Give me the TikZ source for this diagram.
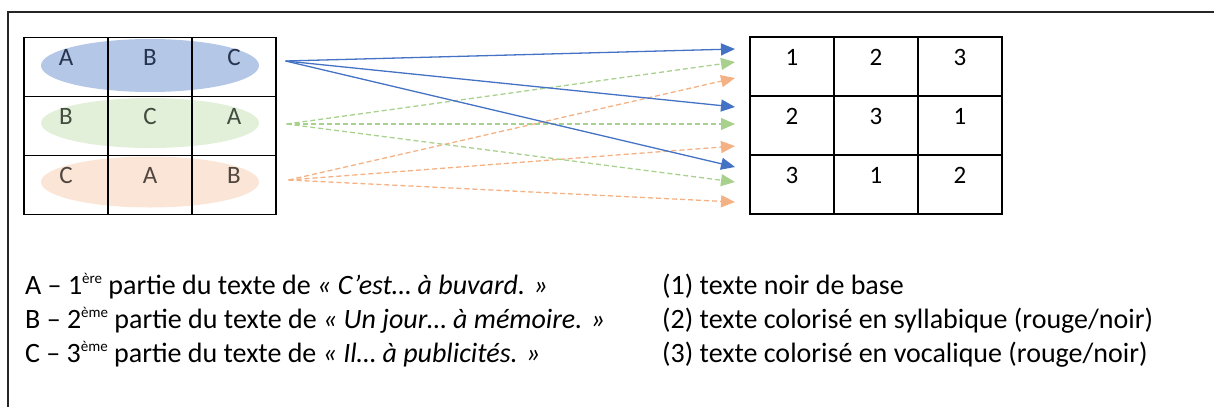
\documentclass[tikz,border=0pt]{standalone}
\usepackage{fontspec}
\setmainfont{Carlito}
\usetikzlibrary{arrows.meta,positioning,calc}
\definecolor{ovblue}{HTML}{B4C7E7}
\definecolor{ovgreen}{HTML}{E2F0D9}
\definecolor{ovorange}{HTML}{FBE5D6}
\definecolor{arrblue}{HTML}{4472C4}
\definecolor{arrgreen}{HTML}{A9D18E}
\definecolor{arrorange}{HTML}{F4B183}
\definecolor{txtblue}{HTML}{27344F}
\definecolor{txtgreen}{HTML}{434C3E}
\definecolor{txtorange}{HTML}{504640}
\newcommand{\expo}[1]{\raisebox{0.36em}{\fontsize{15}{15}\selectfont #1}}

\begin{document}
\begin{tikzpicture}[x=1pt, y=-1pt, node distance=59pt and 84pt, on grid,
      cell/.style={draw, line width=1.1pt, minimum width=84pt, minimum height=59pt,
        inner sep=0pt, text depth=19pt, font=\fontsize{25}{30}\selectfont},
      legend/.style={anchor=base west, inner sep=0pt, font=\fontsize{28}{34}\selectfont},
      tipped/.style={-{Triangle[length=14pt,width=12pt]}, line width=1.3pt},
      dashedarr/.style={tipped, dash pattern=on 5pt off 3pt}]
      \useasboundingbox (0,0) rectangle (1214,407);
      \draw[line width=1.4pt, black!85] (8,407) -- (8,12) -- (1214,12);

      \fill[ovblue] (150,65.5) ellipse [x radius=109, y radius=26.5];
      \fill[ovgreen] (150,123) ellipse [x radius=109, y radius=25];
      \fill[ovorange] (150,182) ellipse [x radius=109, y radius=25.5];

      \node[cell, text=txtblue] (l11) at (66,67) {A};
      \node[cell, text=txtblue, right=of l11] (l12) {B};
      \node[cell, text=txtblue, right=of l12] (l13) {C};
      \node[cell, text=txtgreen, below=of l11] (l21) {B};
      \node[cell, text=txtgreen, right=of l21] (l22) {C};
      \node[cell, text=txtgreen, right=of l22] (l23) {A};
      \node[cell, text=txtorange, below=of l21] (l31) {C};
      \node[cell, text=txtorange, right=of l31] (l32) {A};
      \node[cell, text=txtorange, right=of l32] (l33) {B};

      \node[cell] (r11) at (792,66.5) {1};
      \node[cell, right=of r11] (r12) {2};
      \node[cell, right=of r12] (r13) {3};
      \node[cell, below=of r11] (r21) {2};
      \node[cell, right=of r21] (r22) {3};
      \node[cell, right=of r22] (r23) {1};
      \node[cell, below=of r21] (r31) {3};
      \node[cell, right=of r31] (r32) {1};
      \node[cell, right=of r32] (r33) {2};

      \coordinate (srcA) at ($(l13.east)+(9,-6)$);
      \coordinate (srcB) at ($(l23.east)+(10,-2)$);
      \coordinate (srcC) at ($(l33.east)+(12,-5)$);
      \coordinate (tb1) at (735,49);
      \coordinate (tb2) at (735,107);
      \coordinate (tb3) at (735,167);
      \coordinate (tg1) at (735,62);
      \coordinate (tg2) at (735,124);
      \coordinate (tg3) at (735,182);
      \coordinate (to1) at (735,78);
      \coordinate (to2) at (735,146);
      \coordinate (to3) at (735,202);

      \path[dashedarr, color=arrorange]
        (srcC) edge (to1)
        (srcC) edge (to2)
        (srcC) edge (to3);
      \path[dashedarr, color=arrgreen]
        (srcB) edge (tg1)
        (srcB) edge (tg2)
        (srcB) edge (tg3);
      \path[tipped, color=arrblue]
        (srcA) edge (tb1)
        (srcA) edge (tb2)
        (srcA) edge (tb3);

      \node[legend] (legA) at (25,294)
        {A – 1\expo{ère} partie du texte de \textit{« C’est… à buvard. »}};
      \node[legend] (legB) at (25,328)
        {B – 2\expo{ème} partie du texte de \textit{« Un jour… à mémoire. »}};
      \node[legend] (legC) at (25,362)
        {C – 3\expo{ème} partie du texte de \textit{« Il… à publicités. »}};
      \node[legend] (leg1) at (662,294) {(1) texte noir de base};
      \node[legend] (leg2) at (662,328) {(2) texte colorisé en syllabique (rouge/noir)};
      \node[legend] (leg3) at (662,362) {(3) texte colorisé en vocalique (rouge/noir)};
    \end{tikzpicture}
\end{document}
